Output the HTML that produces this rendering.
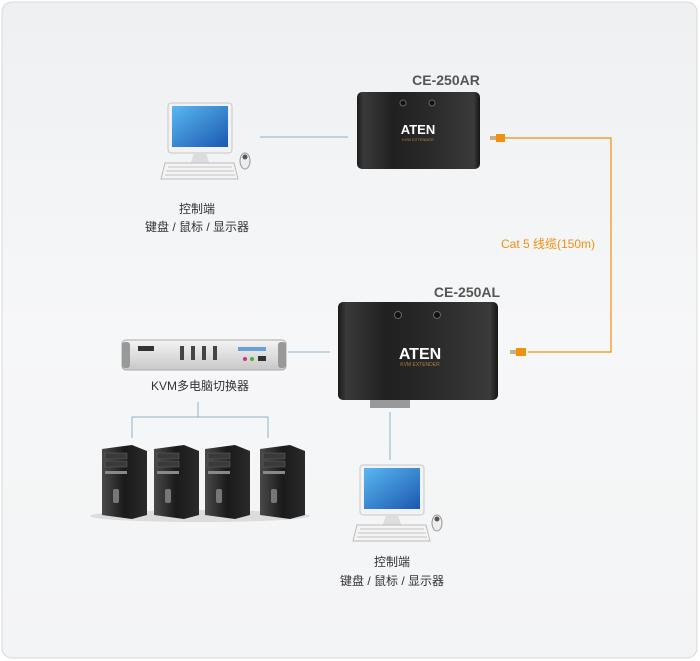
<!DOCTYPE html>
<html><head><meta charset="utf-8"><style>
html,body{margin:0;padding:0;background:#fff}
svg{display:block}
text{font-family:"Liberation Sans","Noto Sans CJK SC",sans-serif}
</style></head><body>
<svg width="700" height="661" viewBox="0 0 700 661" xmlns="http://www.w3.org/2000/svg">
<defs>
<linearGradient id="bg" x1="0" y1="0" x2="0" y2="1"><stop offset="0" stop-color="#eef0f2"/><stop offset="0.5" stop-color="#f6f7f8"/><stop offset="1" stop-color="#f3f4f5"/></linearGradient>
<linearGradient id="box" x1="0" y1="0" x2="1" y2="0"><stop offset="0" stop-color="#1a1a1a"/><stop offset="0.05" stop-color="#3a3a3a"/><stop offset="0.3" stop-color="#202020"/><stop offset="0.6" stop-color="#2a2a2a"/><stop offset="0.95" stop-color="#3a3a3a"/><stop offset="1" stop-color="#151515"/></linearGradient>
<linearGradient id="scr" x1="0" y1="0" x2="1" y2="1"><stop offset="0" stop-color="#5ab8f0"/><stop offset="1" stop-color="#1a58b0"/></linearGradient>
<linearGradient id="tower" x1="0" y1="0" x2="1" y2="0"><stop offset="0" stop-color="#4a4a4a"/><stop offset="0.5" stop-color="#1a1a1a"/><stop offset="1" stop-color="#2a2a2a"/></linearGradient>
<linearGradient id="kvm" x1="0" y1="0" x2="0" y2="1"><stop offset="0" stop-color="#f4f4f4"/><stop offset="1" stop-color="#c8c8c8"/></linearGradient>
<g id="mon">
<rect x="0" y="0" width="64" height="50" rx="3" fill="#f2f2f2" stroke="#c8c8c8"/>
<rect x="4" y="3" width="56" height="41" fill="url(#scr)"/>
<path d="M26 50 L38 50 L42 62 L22 62Z" fill="#ddd"/>
<ellipse cx="32" cy="63" rx="16" ry="3" fill="#d5d5d5"/>
<path d="M-3 60 L66 60 L70 76 L-7 76Z" fill="#f4f4f4" stroke="#bbb"/>
<g stroke="#c5c5c5" stroke-width="1"><line x1="0" y1="64" x2="64" y2="64"/><line x1="-2" y1="68" x2="66" y2="68"/><line x1="-3" y1="72" x2="67" y2="72"/></g>
<ellipse cx="77" cy="58" rx="5" ry="8" fill="#eee" stroke="#999"/>
<circle cx="77" cy="54" r="2.5" fill="#555"/>
</g>
<g id="tw">
<path d="M0 4 L30 0 L45 6 L45 70 L30 74 L0 70Z" fill="url(#tower)"/>
<rect x="3" y="8" width="22" height="6" fill="#3a3a3a" stroke="#666" stroke-width="0.5"/>
<rect x="3" y="16" width="22" height="6" fill="#3a3a3a" stroke="#666" stroke-width="0.5"/>
<rect x="3" y="26" width="22" height="3" fill="#888"/>
<rect x="11" y="44" width="6" height="14" rx="2" fill="#777"/>
</g>
</defs>
<rect x="0" y="0" width="700" height="661" fill="#fff"/>
<rect x="2" y="2" width="695" height="656" rx="10" fill="url(#bg)" stroke="#d8d8d8"/>

<g stroke="#8fb1c9" stroke-width="1" fill="none">
<line x1="260" y1="137" x2="348" y2="137"/>
<line x1="288" y1="352" x2="330" y2="352"/>
<line x1="198" y1="402" x2="198" y2="417"/>
<polyline points="132,438 132,417 268,417 268,438"/>
<line x1="390" y1="412" x2="390" y2="460"/>
</g>
<polyline points="505,138 611,138 611,352 528,352" fill="none" stroke="#f0900f" stroke-width="1.2"/>
<rect x="490" y="136" width="6" height="4" fill="#c8b080"/><rect x="496" y="134" width="9" height="8" fill="#f0900f"/>
<rect x="510" y="350" width="6" height="4" fill="#c8b080"/><rect x="516" y="348" width="10" height="8" fill="#f0900f"/>

<text x="446" y="85" text-anchor="middle" font-size="14" font-weight="bold" fill="#555">CE-250AR</text>
<rect x="357" y="92" width="123" height="77" rx="5" fill="url(#box)"/>
<circle cx="403" cy="103" r="3" fill="#111" stroke="#666"/><circle cx="432" cy="103" r="3" fill="#111" stroke="#666"/>
<text x="418" y="134" text-anchor="middle" font-size="13" font-weight="bold" fill="#fff">ATEN</text>
<text x="418" y="141" text-anchor="middle" font-size="4" fill="#b08040">KVM EXTENDER</text>

<text x="467" y="297" text-anchor="middle" font-size="14" font-weight="bold" fill="#555">CE-250AL</text>
<rect x="338" y="302" width="160" height="98" rx="5" fill="url(#box)"/>
<circle cx="398" cy="315" r="3.5" fill="#111" stroke="#666"/><circle cx="437" cy="315" r="3.5" fill="#111" stroke="#666"/>
<text x="420" y="359" text-anchor="middle" font-size="16" font-weight="bold" fill="#fff">ATEN</text>
<text x="420" y="366" text-anchor="middle" font-size="5" fill="#b08040">KVM EXTENDER</text>
<rect x="370" y="400" width="40" height="8" fill="#999"/>

<text x="501" y="248" font-size="12" fill="#f0900f">Cat 5 线缆(150m)</text>

<use href="#mon" x="168" y="103"/>
<text x="197" y="213" text-anchor="middle" font-size="12" fill="#333">控制端</text>
<text x="197" y="231" text-anchor="middle" font-size="12" fill="#333">键盘 / 鼠标 / 显示器</text>
<use href="#mon" x="360" y="465"/>
<text x="392" y="566" text-anchor="middle" font-size="12" fill="#333">控制端</text>
<text x="392" y="585" text-anchor="middle" font-size="12" fill="#333">键盘 / 鼠标 / 显示器</text>

<rect x="122" y="340" width="164" height="30" rx="4" fill="url(#kvm)" stroke="#aaa"/>
<rect x="122" y="342" width="8" height="26" rx="3" fill="#999"/><rect x="278" y="342" width="8" height="26" rx="3" fill="#999"/>
<rect x="138" y="346" width="16" height="5" fill="#333"/>
<g fill="#444"><rect x="180" y="346" width="4" height="14"/><rect x="191" y="346" width="4" height="14"/><rect x="202" y="346" width="4" height="14"/><rect x="213" y="346" width="4" height="14"/></g>
<rect x="238" y="347" width="28" height="4" fill="#6aa0d8"/>
<circle cx="245" cy="359" r="2" fill="#d03080"/><circle cx="252" cy="359" r="2" fill="#50b030"/><rect x="258" y="356" width="8" height="5" fill="#333"/>
<text x="200" y="390" text-anchor="middle" font-size="12" fill="#333">KVM多电脑切换器</text>

<ellipse cx="200" cy="516" rx="110" ry="6" fill="#ccc" opacity="0.6"/>
<use href="#tw" x="102" y="445"/>
<use href="#tw" x="154" y="445"/>
<use href="#tw" x="205" y="445"/>
<use href="#tw" x="260" y="445"/>
</svg>
</body></html>
